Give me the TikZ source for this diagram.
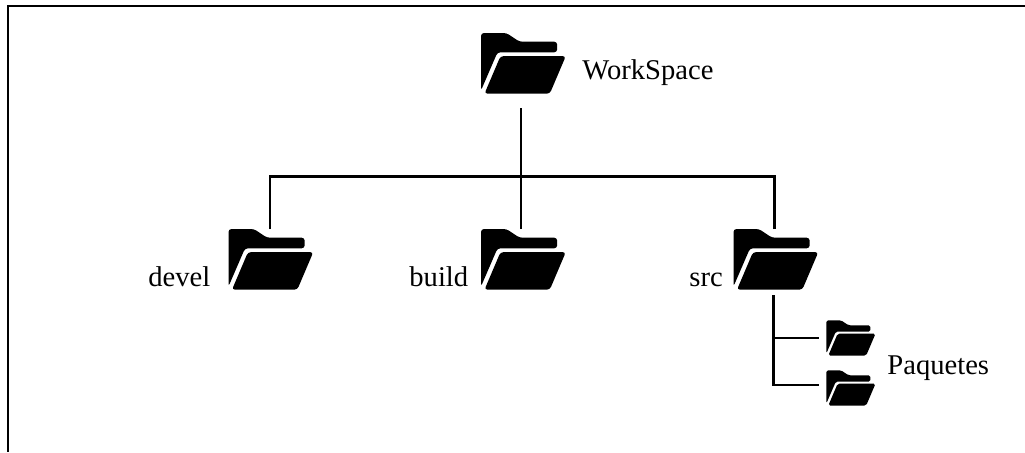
\documentclass[tikz,border=0pt]{standalone}
\usepackage{fontspec}
\setmainfont{Liberation Serif}
\begin{document}
\begin{tikzpicture}[
    x=0.5pt, y=0.5pt,
    level distance=98pt,
    sibling distance=126.25pt,
    folder/.style={draw=none, inner sep=0pt, outer sep=0pt, minimum width=#1*45pt, minimum height=#1*30.5pt,
        path picture={
            \fill[x=#1*0.5pt, y=#1*0.5pt, rounded corners=#1*1.5pt, shift={(path picture bounding box.center)}]
                (-40,-27) -- (-40,30.5) -- (-14.5,30.5) -- (-1.5,21.8) -- (36.2,21.8)
                -- (36.2,11.2) -- (-23.5,11.2) -- cycle
                (-20.5,7.4) -- (44.8,7.4) -- (28.8,-30.2) -- (-36.5,-30.2) -- cycle;
        }},
    filelabel/.style={draw=none, inner sep=0pt, anchor=base west, font=\fontsize{14.3}{17}\selectfont},
    edge from parent/.style={draw=none},
    treeline/.style={draw, line width=1.3pt}
]
\useasboundingbox (0,0) rectangle (1025,452);
\draw[line width=1pt] (1025,446) -- (8,446) -- (8,0);
\node[folder=1] (ws) at (521,388.5) {}
    child {node[folder=1] (devel) {}}
    child {node[folder=1] (build) {}}
    child {node[folder=1] (src) {}};
\node[folder=0.58] (pkgA) at (849.5,114) {};
\node[folder=0.58] (pkgB) at (849.5,64) {};
\node[filelabel] (wsname) at (582,373) {WorkSpace};
\node[filelabel] (develname) at (148,166) {devel};
\node[filelabel] (buildname) at (409,166) {build};
\node[filelabel] (srcname) at (689,166) {src};
\node[filelabel] (pkgname) at (887,78) {Paquetes};
\coordinate (fork) at (521,275.5);
\draw[treeline, shorten <=7pt] (ws.south) -- (fork);
\draw[treeline] (build.north) -- (fork);
\draw[treeline] ([xshift=0.75pt]devel.north) |- (fork);
\draw[treeline] ([xshift=0.5pt]src.north) |- (fork);
\draw[treeline, shorten <=2.5pt, shorten >=2pt] (src.south) |- (pkgA.west);
\draw[treeline, shorten <=2.5pt, shorten >=2pt] (src.south) |- ([yshift=1.5pt]pkgB.west);
\end{tikzpicture}
\end{document}
